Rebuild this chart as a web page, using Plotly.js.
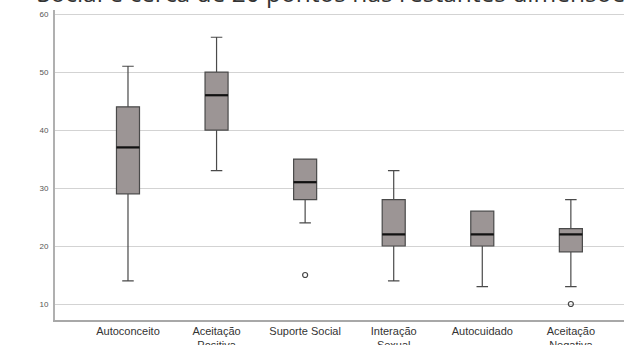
<!DOCTYPE html>
<html>
<head>
<meta charset="utf-8">
<script src="https://cdn.plot.ly/plotly-3.0.1.min.js"></script>
<style>html,body{margin:0;padding:0;background:#fff;overflow:hidden;}#chart{width:624px;height:345px;}</style>
</head>
<body>
<div id="chart"></div>
<script>
const categories = ['Autoconceito', 'Aceitação Positiva', 'Suporte Social', 'Interação Sexual', 'Autocuidado', 'Aceitação Negativa'];
const tickLabels = ['Autoconceito', 'Aceitação<br>Positiva', 'Suporte Social', 'Interação<br>Sexual', 'Autocuidado', 'Aceitação<br>Negativa'];
const lowerWhisker = [14, 33, 24, 14, 13, 13];
const q1Values = [29, 40, 28, 20, 20, 19];
const medianValues = [37, 46, 31, 22, 22, 22];
const q3Values = [44, 50, 35, 28, 26, 23];
const upperWhisker = [51, 56, 35, 33, 26, 28];
const outlierCategories = ['Suporte Social', 'Aceitação Negativa'];
const outlierValues = [15, 10];
const yTickValues = [10, 20, 30, 40, 50, 60];
const headingText = 'Social e cerca de 20 pontos nas restantes dimensões';

const boxWidth = 0.26;

const traces = [
  {
    type: 'box',
    x: categories,
    q1: q1Values,
    median: medianValues,
    q3: q3Values,
    lowerfence: lowerWhisker,
    upperfence: upperWhisker,
    width: boxWidth,
    whiskerwidth: 0.5,
    fillcolor: '#9c9595',
    line: {color: '#4a4a4a', width: 1.2},
    boxpoints: false,
    hoverinfo: 'skip',
    showlegend: false
  },
  {
    type: 'scatter',
    mode: 'markers',
    x: outlierCategories,
    y: outlierValues,
    marker: {symbol: 'circle-open', size: 5, color: '#444', line: {width: 1.2, color: '#444'}},
    hoverinfo: 'skip',
    showlegend: false
  }
];

const shapes = medianValues.map((m, i) => ({
  type: 'line', xref: 'x', yref: 'y',
  x0: i - boxWidth / 2, x1: i + boxWidth / 2, y0: m, y1: m,
  line: {color: '#111', width: 2.2}
}));

const layout = {
  width: 624, height: 345,
  margin: {l: 55, r: 0, t: 10, b: 25},
  paper_bgcolor: '#fff', plot_bgcolor: '#fff',
  font: {family: 'Liberation Sans, Arial, sans-serif', color: '#333'},
  xaxis: {
    type: 'category',
    categoryarray: categories,
    tickvals: categories,
    ticktext: tickLabels,
    range: [-0.824, 5.6],
    showgrid: false, zeroline: false,
    showline: true, linecolor: '#a8a8a8', linewidth: 1.5,
    ticks: '', tickfont: {size: 11, color: '#333'},
    ticklabelstandoff: 0
  },
  yaxis: {
    range: [7.24, 60.7],
    tickvals: yTickValues,
    showgrid: true, gridcolor: '#d3d3d3', gridwidth: 1,
    zeroline: false,
    showline: true, linecolor: '#b0b0b0', linewidth: 2,
    ticks: '',
    tickfont: {size: 8, color: '#555'},
    ticklabelstandoff: 3
  },
  shapes: shapes,
  annotations: [{
    text: headingText, xref: 'paper', yref: 'paper',
    x: -0.036, y: 1.0, xanchor: 'left', yanchor: 'bottom', yshift: -1.5,
    showarrow: false,
    font: {family: 'Open Sans, sans-serif', size: 24.5, color: '#333'}
  }]
};

Plotly.newPlot('chart', traces, layout, {displayModeBar: false, staticPlot: true});
</script>
</body>
</html>
